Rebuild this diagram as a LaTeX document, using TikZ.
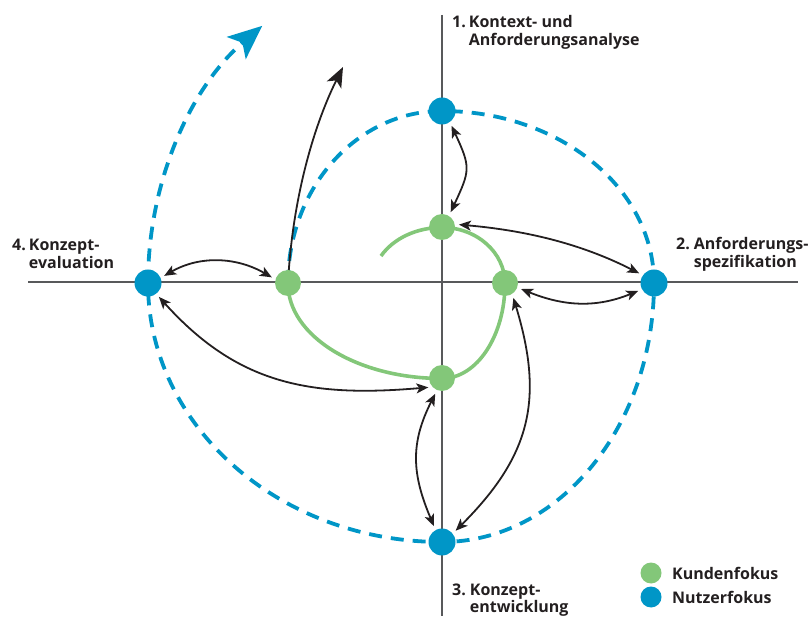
\documentclass[tikz,border=0pt]{standalone}
\usepackage{fontspec}
\setmainfont{Open Sans}
\usetikzlibrary{arrows.meta,backgrounds}
\definecolor{cblue}{RGB}{0,150,199}
\definecolor{cgreen}{RGB}{131,199,121}
\definecolor{caxis}{RGB}{88,89,91}
\definecolor{cink}{RGB}{35,31,32}
\newcommand\phasetext[4]{\begin{tabular}[t]{@{}l@{\hspace{#2}}l@{}}#1&#3\\&#4\end{tabular}}
\begin{document}
\begin{tikzpicture}[x=1pt,y=1pt,
  bnode/.style={circle,fill=cblue,minimum size=27pt,inner sep=0pt},
  gnode/.style={circle,fill=cgreen,minimum size=26pt,inner sep=0pt},
  lnode/.style={circle,minimum size=21pt,inner sep=0pt},
  axisline/.style={draw=caxis,line width=2.2pt},
  bluespiral/.style={draw=cblue,line width=3.8pt,dash pattern=on 13pt off 9pt},
  greenspiral/.style={draw=cgreen,line width=3.6pt},
  dlink/.style={draw=cink,line width=1.8pt,{Stealth[length=12pt,width=10pt,inset=3pt]}-{Stealth[length=12pt,width=10pt,inset=3pt]},shorten <=4pt,shorten >=4pt},
  uplink/.style={draw=cink,line width=1.8pt,-{Stealth[length=20pt,width=16pt,inset=5pt]}},
  phaselabel/.style={font=\fontsize{16}{17.4}\selectfont\bfseries,inner sep=0pt,anchor=base west,text=cink},
  legendtext/.style={font=\fontsize{16}{17.4}\selectfont\bfseries,inner sep=0pt,anchor=base west,text=cink}
]
\useasboundingbox (0,0) rectangle (811,616);
% nodes
\node[bnode] (B1) at (442,505) {};
\node[bnode] (B2) at (654,333) {};
\node[bnode] (B3) at (442,74) {};
\node[bnode] (B4) at (148,333) {};
\node[gnode] (G1) at (442,389) {};
\node[gnode] (G2) at (505,333) {};
\node[gnode] (G3) at (442,238) {};
\node[gnode] (G4) at (288,333) {};
\coordinate (gs) at (381,360);
\coordinate (up) at (343,549);
\coordinate (vt) at (442,601);
\coordinate (vb) at (442,0);
\coordinate (hl) at (28,334);
\coordinate (hr) at (798,334);
\begin{scope}[on background layer]
\draw[axisline] (vt) -- (vb);
\draw[axisline] (hl) -- (hr);
\draw[greenspiral] (gs)
  arc[start angle=150.6,end angle=90,x radius=70,y radius=56]
  arc[start angle=90,end angle=0,x radius=63,y radius=56]
  arc[start angle=0,end angle=-90,x radius=63,y radius=95]
  arc[start angle=-90,end angle=-180,x radius=154,y radius=95];
\draw[bluespiral,-{Stealth[length=34pt,width=29pt,inset=8pt]}] (G4.center)
  arc[start angle=180,end angle=90,x radius=154,y radius=172]
  arc[start angle=90,end angle=0,x radius=212,y radius=172]
  arc[start angle=0,end angle=-90,x radius=212,y radius=259]
  arc[start angle=-90,end angle=-180,x radius=294,y radius=259]
  arc[start angle=180,end angle=127.7,x radius=294,y radius=325];
\draw[uplink] (G4.center) .. controls +(87:90) and +(243.4:60) .. (up);
\end{scope}
% connectors
\draw[dlink] (B1.-55) .. controls +(-65:50) and +(65:50) .. (G1.58);
\draw[dlink] (G1.12) .. controls +(-5:70) and +(153:70) .. (B2.145);
\draw[dlink] (G2.-20) .. controls +(-22:50) and +(202:50) .. (B2.-152);
\draw[dlink] (G2.-57) .. controls +(-73:110) and +(45:110) .. (B3.38);
\draw[dlink] (G3.-112) .. controls +(-117:60) and +(113:60) .. (B3.118);
\draw[dlink] (G3.223) .. controls +(185:125) and +(-48:120) .. (B4.-53);
\draw[dlink] (B4.22) .. controls +(30:45) and +(150:45) .. (G4.164);
% labels
\node[phaselabel] (L1) at (452,588) {\phasetext{1.}{3pt}{Kontext- und}{Anforderungsanalyse}};
\node[phaselabel] (L2) at (676,366) {\phasetext{2.}{4pt}{Anforderungs-}{spezifikation}};
\node[phaselabel] (L3) at (452,21) {\phasetext{3.}{4pt}{Konzept-}{entwicklung}};
\node[phaselabel] (L4) at (12,365) {\phasetext{4.}{3pt}{Konzept-}{evaluation}};
% legend
\node[lnode,fill=cgreen] (KG) at (651,43) {};
\node[lnode,fill=cblue] (KB) at (651,19) {};
\node[legendtext] (KT) at (672,37) {Kundenfokus};
\node[legendtext] (NT) at (672,13) {Nutzerfokus};
\end{tikzpicture}
\end{document}
